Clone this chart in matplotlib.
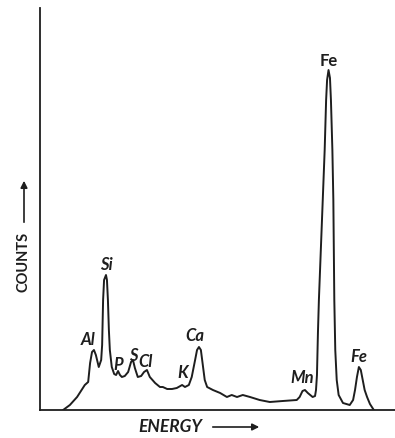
import matplotlib
matplotlib.use('Agg')
from matplotlib import pyplot as plt

# EDS spectrum trace (energy in keV, counts in arbitrary units)
energy = [0.85, 0.99, 1.14, 1.30, 1.37, 1.41, 1.45, 1.49, 1.53, 1.59, 1.64, 1.66,
          1.68, 1.70, 1.74, 1.76, 1.78, 1.80, 1.82, 1.86, 1.91, 1.95, 1.99, 2.03,
          2.07, 2.13, 2.20, 2.26, 2.30, 2.34, 2.40, 2.47, 2.53, 2.59, 2.65, 2.76,
          2.86, 2.92, 3.01, 3.11, 3.21, 3.32, 3.38, 3.46, 3.52, 3.59, 3.63, 3.67,
          3.71, 3.75, 3.79, 3.84, 3.96, 4.11, 4.25, 4.35, 4.46, 4.58, 4.73, 4.93,
          5.14, 5.41, 5.70, 5.76, 5.82, 5.87, 5.93, 6.03, 6.08, 6.10, 6.12, 6.14,
          6.16, 6.20, 6.24, 6.28, 6.31, 6.33, 6.36, 6.39, 6.41, 6.44, 6.46, 6.47,
          6.48, 6.50, 6.53, 6.57, 6.66, 6.80, 6.87, 6.91, 6.95, 6.99, 7.03, 7.07,
          7.11, 7.16, 7.22, 7.30]
counts = [0, 5, 13, 25, 28, 47, 58, 60, 55, 43, 50, 65,
          110, 130, 135, 130, 110, 80, 60, 43, 36, 35, 39, 35,
          33, 34, 38, 48, 50, 42, 33, 34, 38, 40, 33, 27,
          23, 23, 21, 21, 22, 25, 23, 25, 33, 50, 60, 63,
          60, 45, 30, 23, 20, 17, 13, 15, 13, 15, 13, 10,
          8, 9, 10, 13, 19, 20, 17, 13, 14, 20, 35, 77,
          110, 160, 210, 260, 310, 330, 340, 332, 310, 260, 210, 160,
          110, 60, 30, 15, 7, 5, 10, 20, 33, 43, 40, 30,
          20, 13, 6, 0]

# peak labels
elements = ['Al', 'Si', 'P', 'S', 'Cl', 'K', 'Ca', 'Mn', 'Fe', 'Fe']
label_e = [1.37, 1.74, 1.99, 2.30, 2.57, 3.34, 3.59, 5.81, 6.37, 6.99]
label_c = [70, 145, 45, 54, 48, 37, 74, 32, 349, 53]

ink = '#1e1e1e'
lab = dict(family=['Lato', 'DejaVu Sans'], fontweight='bold', color=ink)

fig = plt.figure(figsize=(3.95, 4.38), dpi=100)
ax = fig.add_axes([40 / 395, 28 / 438, 355 / 395, 402 / 438])

ax.plot(energy, counts, color=ink, lw=1.4, solid_joinstyle='round')
ax.set_xlim(0.37, 7.74)
ax.set_ylim(0, 402)

for s in ['top', 'right']:
    ax.spines[s].set_visible(False)
for s in ['left', 'bottom']:
    ax.spines[s].set_color(ink)
    ax.spines[s].set_linewidth(1.3)
ax.set_xticks([])
ax.set_yticks([])

for name, e, c in zip(elements, label_e, label_c):
    ax.text(e, c, name, ha='center', va='center', fontsize=12,
            style='normal' if c > 300 else 'italic', **lab)

# axis titles with arrows
fig.text(24 / 395, 1 - 262 / 438, 'COUNTS', rotation=90, ha='center', va='center',
         fontsize=10.5, **lab)
ax.annotate('', xy=(24, 260), xytext=(24, 213), xycoords='figure pixels',
            arrowprops=dict(arrowstyle='-|>', color=ink, lw=1.2, mutation_scale=10))
fig.text(170 / 395, 1 - 427 / 438, 'ENERGY', ha='center', va='center',
         fontsize=12.5, style='italic', **lab)
ax.annotate('', xy=(262, 11), xytext=(210, 11), xycoords='figure pixels',
            arrowprops=dict(arrowstyle='-|>', color=ink, lw=1.2, mutation_scale=10))

plt.savefig('out.png', dpi=100)
